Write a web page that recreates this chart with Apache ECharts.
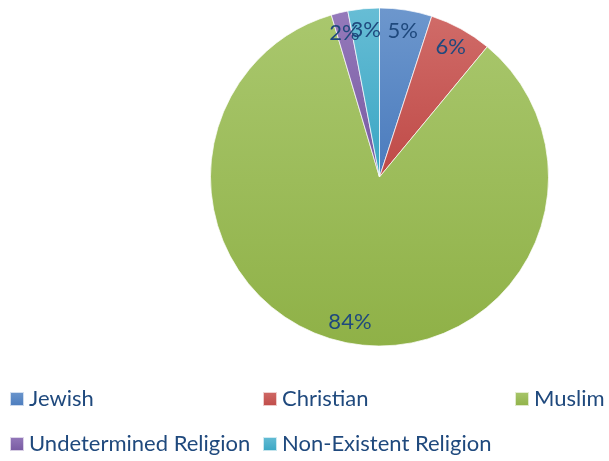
<!DOCTYPE html>
<html>
<head>
<meta charset="utf-8">
<script src="https://cdn.jsdelivr.net/npm/echarts@6/dist/echarts.min.js"></script>
<style>
  html, body { margin:0; padding:0; background:#fff; }
  #chart { width:609px; height:461px; }
</style>
</head>
<body>
<div id="chart"></div>
<script>
// religion shares
var religions = ['Jewish', 'Christian', 'Muslim', 'Undetermined Religion', 'Non-Existent Religion'];
var shares    = [5, 6, 84.4, 1.6, 3];
// slice colours, light top / dark bottom
var topColors    = ['#6d97cd', '#d06b68', '#a9c76d', '#957abb', '#67bdd5'];
var bottomColors = ['#4a7bbd', '#bf4a47', '#8fb147', '#7658a0', '#38a5c3'];

var textColor = '#1F497D';
var fontName = 'Lato';

function sliceColor(i){
	return new echarts.graphic.LinearGradient(0, 0, 0, 1, [
		{offset:0, color:topColors[i]},
		{offset:1, color:bottomColors[i]}
	]);
}

var pieData = [];
var labelData = [];
for (var i = 0; i < religions.length; i++){
	pieData.push({name:religions[i], value:shares[i], itemStyle:{color:sliceColor(i)}});
	labelData.push({name:religions[i], value:shares[i]});
}

// one legend per entry, placed like the original layout
var legendSpots = [
	{left:9,   top:387},
	{left:262, top:387},
	{left:514, top:387},
	{left:9,   top:432},
	{left:262, top:432}
];
var legends = [];
for (var j = 0; j < religions.length; j++){
	legends.push({
		data:[religions[j]],
		left:legendSpots[j].left,
		top:legendSpots[j].top,
		padding:0,
		icon:'rect',
		itemWidth:14,
		itemHeight:14,
		selectedMode:false,
		textStyle:{color:textColor, fontFamily:fontName, fontSize:22, lineHeight:24}
	});
}

var chart = echarts.init(document.getElementById('chart'));
var option = {
	animation:false,
	legend:legends,
	series:[{
		name:'Religion',
		type:'pie',
		center:[379.5, 177],
		radius:169,
		startAngle:90,
		clockwise:true,
		avoidLabelOverlap:false,
		label:{show:false},
		labelLine:{show:false},
		itemStyle:{borderColor:'rgba(255,255,255,0.7)', borderWidth:1},
		emphasis:{disabled:true},
		data:pieData
	},{
		// transparent ring used only to put the % labels near the rim
		name:'labels',
		type:'pie',
		center:[379.5, 177],
		radius:290,
		startAngle:90,
		clockwise:true,
		silent:true,
		avoidLabelOverlap:false,
		percentPrecision:0,
		itemStyle:{color:'rgba(0,0,0,0)'},
		label:{
			show:true,
			position:'inside',
			formatter:'{d}%',
			color:textColor,
			fontFamily:fontName,
			fontSize:22
		},
		labelLayout:{hideOverlap:false},
		labelLine:{show:false},
		emphasis:{disabled:true},
		data:labelData
	}]
};
chart.setOption(option);
</script>
</body>
</html>
